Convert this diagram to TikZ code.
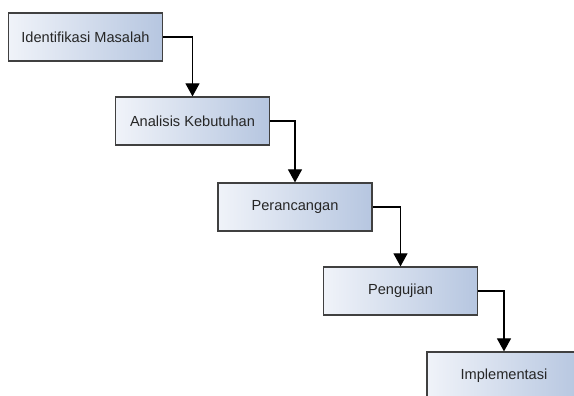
\documentclass[tikz,border=0pt]{standalone}
\usepackage{fontspec}
\setmainfont{Liberation Sans}
\usetikzlibrary{arrows.meta}
\definecolor{stageleft}{RGB}{240,243,249}
\definecolor{stageright}{RGB}{182,198,224}

\tikzset{
    stage/.style={draw=black!75, line width=1.2pt, minimum width=154pt, minimum height=48pt,
        inner sep=0pt, left color=stageleft, right color=stageright,
        font=\fontsize{14.6}{17}\selectfont, text=black!85},
    flow/.style={line width=1.1pt, -{Triangle[width=14pt,length=13pt]}}
}

\begin{document}
\begin{tikzpicture}[x=1pt, y=1pt]
            \useasboundingbox (0,0) rectangle (574,396);
            \clip (0,0) rectangle (574,396);
            \fill[white] (0,0) rectangle (574,396);

            %% stages
            \node[stage] (masalah)    at (85.5,359)  {Identifikasi Masalah};
            \node[stage] (kebutuhan)  at (192.5,275) {Analisis Kebutuhan};
            \node[stage] (rancang)    at (295,189)   {Perancangan};
            \node[stage] (uji)        at (400.5,105) {Pengujian};
            \node[stage] (implement)  at (504,20)    {Implementasi};

            %% arrows
            \draw[flow] (masalah.east)   -| (kebutuhan.north);
            \draw[flow] (kebutuhan.east) -| (rancang.north);
            \draw[flow] (rancang.east)   -| (uji.north);
            \draw[flow] (uji.east)       -| (implement.north);

        \end{tikzpicture}
\end{document}
